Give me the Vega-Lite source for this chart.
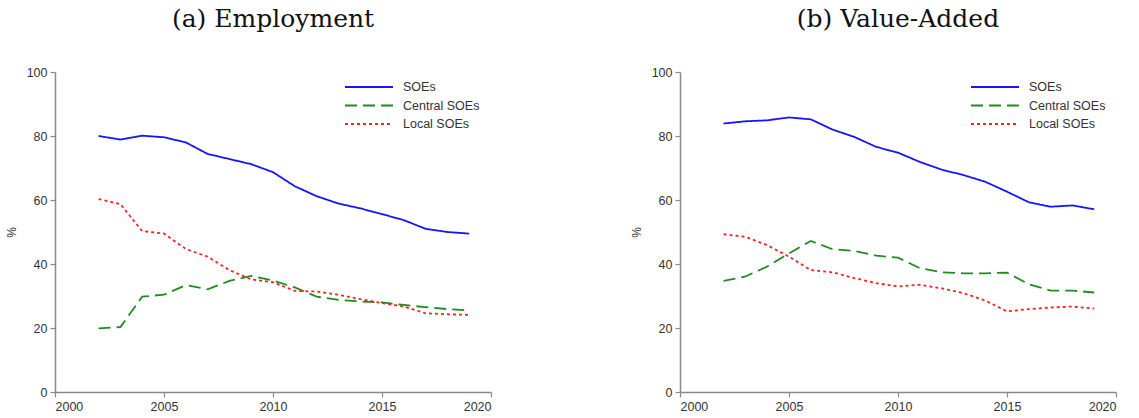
{
  "$schema": "https://vega.github.io/schema/vega-lite/v6.json",
  "padding": {"left": 5, "top": 7, "right": 5, "bottom": 2},
  "background": "white",
  "datasets": {
    "emp": [
      {"year": 2002, "series": "SOEs", "value": 80.0},
      {"year": 2003, "series": "SOEs", "value": 78.9},
      {"year": 2004, "series": "SOEs", "value": 80.1},
      {"year": 2005, "series": "SOEs", "value": 79.6},
      {"year": 2006, "series": "SOEs", "value": 78.0},
      {"year": 2007, "series": "SOEs", "value": 74.4},
      {"year": 2008, "series": "SOEs", "value": 72.8},
      {"year": 2009, "series": "SOEs", "value": 71.2},
      {"year": 2010, "series": "SOEs", "value": 68.7},
      {"year": 2011, "series": "SOEs", "value": 64.3},
      {"year": 2012, "series": "SOEs", "value": 61.2},
      {"year": 2013, "series": "SOEs", "value": 58.9},
      {"year": 2014, "series": "SOEs", "value": 57.4},
      {"year": 2015, "series": "SOEs", "value": 55.6},
      {"year": 2016, "series": "SOEs", "value": 53.7},
      {"year": 2017, "series": "SOEs", "value": 51.0},
      {"year": 2018, "series": "SOEs", "value": 50.0},
      {"year": 2019, "series": "SOEs", "value": 49.5},
      {"year": 2002, "series": "Central SOEs", "value": 19.9},
      {"year": 2003, "series": "Central SOEs", "value": 20.3},
      {"year": 2004, "series": "Central SOEs", "value": 29.8},
      {"year": 2005, "series": "Central SOEs", "value": 30.4},
      {"year": 2006, "series": "Central SOEs", "value": 33.4},
      {"year": 2007, "series": "Central SOEs", "value": 32.1},
      {"year": 2008, "series": "Central SOEs", "value": 34.7},
      {"year": 2009, "series": "Central SOEs", "value": 36.3},
      {"year": 2010, "series": "Central SOEs", "value": 34.8},
      {"year": 2011, "series": "Central SOEs", "value": 32.7},
      {"year": 2012, "series": "Central SOEs", "value": 29.8},
      {"year": 2013, "series": "Central SOEs", "value": 28.8},
      {"year": 2014, "series": "Central SOEs", "value": 28.3},
      {"year": 2015, "series": "Central SOEs", "value": 28.0},
      {"year": 2016, "series": "Central SOEs", "value": 27.2},
      {"year": 2017, "series": "Central SOEs", "value": 26.5},
      {"year": 2018, "series": "Central SOEs", "value": 25.9},
      {"year": 2019, "series": "Central SOEs", "value": 25.5},
      {"year": 2002, "series": "Local SOEs", "value": 60.3},
      {"year": 2003, "series": "Local SOEs", "value": 58.7},
      {"year": 2004, "series": "Local SOEs", "value": 50.3},
      {"year": 2005, "series": "Local SOEs", "value": 49.5},
      {"year": 2006, "series": "Local SOEs", "value": 44.7},
      {"year": 2007, "series": "Local SOEs", "value": 42.3},
      {"year": 2008, "series": "Local SOEs", "value": 38.1},
      {"year": 2009, "series": "Local SOEs", "value": 35.2},
      {"year": 2010, "series": "Local SOEs", "value": 34.3},
      {"year": 2011, "series": "Local SOEs", "value": 31.6},
      {"year": 2012, "series": "Local SOEs", "value": 31.4},
      {"year": 2013, "series": "Local SOEs", "value": 30.4},
      {"year": 2014, "series": "Local SOEs", "value": 29.0},
      {"year": 2015, "series": "Local SOEs", "value": 27.8},
      {"year": 2016, "series": "Local SOEs", "value": 26.7},
      {"year": 2017, "series": "Local SOEs", "value": 24.6},
      {"year": 2018, "series": "Local SOEs", "value": 24.3},
      {"year": 2019, "series": "Local SOEs", "value": 24.1}
    ],
    "va": [
      {"year": 2002, "series": "SOEs", "value": 83.9},
      {"year": 2003, "series": "SOEs", "value": 84.6},
      {"year": 2004, "series": "SOEs", "value": 84.9},
      {"year": 2005, "series": "SOEs", "value": 85.8},
      {"year": 2006, "series": "SOEs", "value": 85.2},
      {"year": 2007, "series": "SOEs", "value": 82.0},
      {"year": 2008, "series": "SOEs", "value": 79.7},
      {"year": 2009, "series": "SOEs", "value": 76.6},
      {"year": 2010, "series": "SOEs", "value": 74.8},
      {"year": 2011, "series": "SOEs", "value": 71.9},
      {"year": 2012, "series": "SOEs", "value": 69.5},
      {"year": 2013, "series": "SOEs", "value": 67.8},
      {"year": 2014, "series": "SOEs", "value": 65.7},
      {"year": 2015, "series": "SOEs", "value": 62.6},
      {"year": 2016, "series": "SOEs", "value": 59.3},
      {"year": 2017, "series": "SOEs", "value": 57.9},
      {"year": 2018, "series": "SOEs", "value": 58.3},
      {"year": 2019, "series": "SOEs", "value": 57.1},
      {"year": 2002, "series": "Central SOEs", "value": 34.7},
      {"year": 2003, "series": "Central SOEs", "value": 36.1},
      {"year": 2004, "series": "Central SOEs", "value": 39.2},
      {"year": 2005, "series": "Central SOEs", "value": 43.3},
      {"year": 2006, "series": "Central SOEs", "value": 47.2},
      {"year": 2007, "series": "Central SOEs", "value": 44.6},
      {"year": 2008, "series": "Central SOEs", "value": 44.1},
      {"year": 2009, "series": "Central SOEs", "value": 42.6},
      {"year": 2010, "series": "Central SOEs", "value": 42.0},
      {"year": 2011, "series": "Central SOEs", "value": 38.7},
      {"year": 2012, "series": "Central SOEs", "value": 37.4},
      {"year": 2013, "series": "Central SOEs", "value": 37.1},
      {"year": 2014, "series": "Central SOEs", "value": 37.1},
      {"year": 2015, "series": "Central SOEs", "value": 37.3},
      {"year": 2016, "series": "Central SOEs", "value": 33.7},
      {"year": 2017, "series": "Central SOEs", "value": 31.7},
      {"year": 2018, "series": "Central SOEs", "value": 31.7},
      {"year": 2019, "series": "Central SOEs", "value": 31.1},
      {"year": 2002, "series": "Local SOEs", "value": 49.3},
      {"year": 2003, "series": "Local SOEs", "value": 48.5},
      {"year": 2004, "series": "Local SOEs", "value": 45.9},
      {"year": 2005, "series": "Local SOEs", "value": 42.3},
      {"year": 2006, "series": "Local SOEs", "value": 38.1},
      {"year": 2007, "series": "Local SOEs", "value": 37.4},
      {"year": 2008, "series": "Local SOEs", "value": 35.6},
      {"year": 2009, "series": "Local SOEs", "value": 34.0},
      {"year": 2010, "series": "Local SOEs", "value": 33.0},
      {"year": 2011, "series": "Local SOEs", "value": 33.5},
      {"year": 2012, "series": "Local SOEs", "value": 32.4},
      {"year": 2013, "series": "Local SOEs", "value": 30.9},
      {"year": 2014, "series": "Local SOEs", "value": 28.6},
      {"year": 2015, "series": "Local SOEs", "value": 25.2},
      {"year": 2016, "series": "Local SOEs", "value": 25.9},
      {"year": 2017, "series": "Local SOEs", "value": 26.4},
      {"year": 2018, "series": "Local SOEs", "value": 26.7},
      {"year": 2019, "series": "Local SOEs", "value": 26.1}
    ]
  },
  "spacing": 138,
  "resolve": {"scale": {"color": "independent", "strokeDash": "independent"}, "legend": {"color": "independent", "strokeDash": "independent"}},
  "hconcat": [
    {
      "title": {"text": "(a) Employment"},
      "width": 436,
      "height": 320,
      "data": {"name": "emp"},
      "mark": {"type": "line", "strokeWidth": 1.8},
      "encoding": {
        "x": {"field": "year", "type": "quantitative", "scale": {"domain": [2000, 2020], "nice": false, "zero": false},
              "axis": {"values": [2000, 2005, 2010, 2015, 2020], "format": "d", "title": null}},
        "y": {"field": "value", "type": "quantitative", "scale": {"domain": [0, 100], "nice": false},
              "axis": {"values": [0, 20, 40, 60, 80, 100], "title": "%"}},
        "color": {"field": "series", "type": "nominal", "sort": ["SOEs", "Central SOEs", "Local SOEs"],
                  "scale": {"domain": ["SOEs", "Central SOEs", "Local SOEs"], "range": ["#1414ff", "#1e8c1e", "#ff2020"]},
                  "legend": {"title": null, "orient": "none", "legendX": 289, "legendY": 8}},
        "strokeDash": {"field": "series", "type": "nominal", "sort": ["SOEs", "Central SOEs", "Local SOEs"],
                  "scale": {"domain": ["SOEs", "Central SOEs", "Local SOEs"], "range": [[1, 0], [12, 6], [3, 3]]},
                  "legend": {"title": null, "orient": "none", "legendX": 289, "legendY": 8}}
      }
    },
    {
      "title": {"text": "(b) Value-Added"},
      "width": 436,
      "height": 320,
      "data": {"name": "va"},
      "mark": {"type": "line", "strokeWidth": 1.8},
      "encoding": {
        "x": {"field": "year", "type": "quantitative", "scale": {"domain": [2000, 2020], "nice": false, "zero": false},
              "axis": {"values": [2000, 2005, 2010, 2015, 2020], "format": "d", "title": null}},
        "y": {"field": "value", "type": "quantitative", "scale": {"domain": [0, 100], "nice": false},
              "axis": {"values": [0, 20, 40, 60, 80, 100], "title": "%"}},
        "color": {"field": "series", "type": "nominal", "sort": ["SOEs", "Central SOEs", "Local SOEs"],
                  "scale": {"domain": ["SOEs", "Central SOEs", "Local SOEs"], "range": ["#1414ff", "#1e8c1e", "#ff2020"]},
                  "legend": {"title": null, "orient": "none", "legendX": 290, "legendY": 8}},
        "strokeDash": {"field": "series", "type": "nominal", "sort": ["SOEs", "Central SOEs", "Local SOEs"],
                  "scale": {"domain": ["SOEs", "Central SOEs", "Local SOEs"], "range": [[1, 0], [12, 6], [3, 3]]},
                  "legend": {"title": null, "orient": "none", "legendX": 290, "legendY": 8}}
      }
    }
  ],
  "config": {
    "view": {"stroke": null},
    "title": {"font": "DejaVu Serif", "fontSize": 25, "fontWeight": "normal", "color": "#111", "anchor": "middle", "offset": 34},
    "axis": {
      "grid": false,
      "domainColor": "#8a8a8a",
      "domainWidth": 1.5,
      "tickColor": "#8a8a8a",
      "tickWidth": 1.2,
      "tickSize": 5,
      "labelFont": "Liberation Sans",
      "labelFontSize": 12.5,
      "labelColor": "#333",
      "labelPadding": 3,
      "titleFont": "Liberation Sans",
      "titleFontSize": 12,
      "titleFontWeight": "normal",
      "titleColor": "#333",
      "titlePadding": 8
    },
    "legend": {
      "labelFont": "Liberation Sans",
      "labelFontSize": 12.5,
      "labelColor": "#333",
      "symbolType": "M-1,0H7",
      "symbolSize": 144,
      "symbolStrokeWidth": 1.8,
      "labelOffset": 45,
      "rowPadding": 4.5
    }
  }
}
